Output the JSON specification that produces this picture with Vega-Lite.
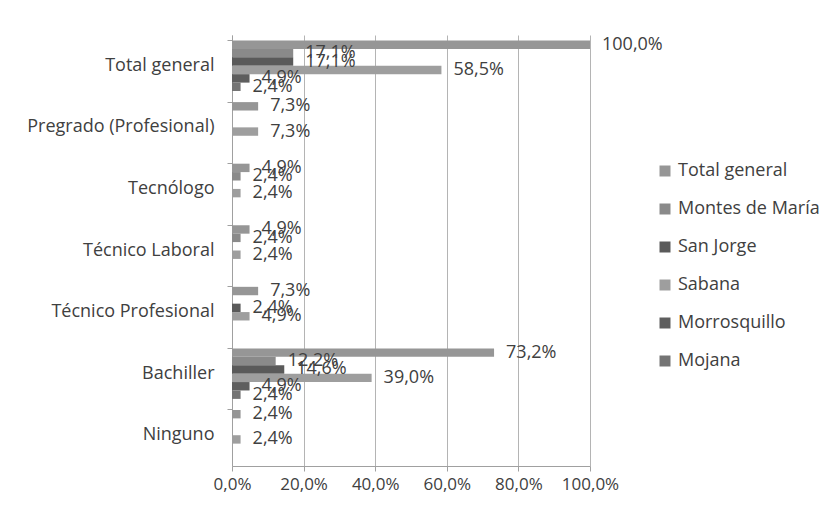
{
  "$schema": "https://vega.github.io/schema/vega-lite/v6.json",
  "width": 358,
  "height": 431,
  "autosize": {"type": "none"},
  "padding": {"left": 232, "top": 35, "right": 240, "bottom": 46},
  "background": "white",
  "config": {
    "view": {"stroke": null},
    "locale": {"number": {"decimal": ",", "thousands": ".", "grouping": [3], "currency": ["", " €"]}},
    "font": "Open Sans"
  },
  "data": {
    "values": [
      {"nivel": "Total general", "serie": "Total general", "v": 1.0},
      {"nivel": "Total general", "serie": "Montes de María", "v": 0.171},
      {"nivel": "Total general", "serie": "San Jorge", "v": 0.171},
      {"nivel": "Total general", "serie": "Sabana", "v": 0.585},
      {"nivel": "Total general", "serie": "Morrosquillo", "v": 0.049},
      {"nivel": "Total general", "serie": "Mojana", "v": 0.024},
      {"nivel": "Pregrado (Profesional)", "serie": "Total general", "v": 0.073},
      {"nivel": "Pregrado (Profesional)", "serie": "Sabana", "v": 0.073},
      {"nivel": "Tecnólogo", "serie": "Total general", "v": 0.049},
      {"nivel": "Tecnólogo", "serie": "Montes de María", "v": 0.024},
      {"nivel": "Tecnólogo", "serie": "Sabana", "v": 0.024},
      {"nivel": "Técnico Laboral", "serie": "Total general", "v": 0.049},
      {"nivel": "Técnico Laboral", "serie": "Montes de María", "v": 0.024},
      {"nivel": "Técnico Laboral", "serie": "Sabana", "v": 0.024},
      {"nivel": "Técnico Profesional", "serie": "Total general", "v": 0.073},
      {"nivel": "Técnico Profesional", "serie": "San Jorge", "v": 0.024},
      {"nivel": "Técnico Profesional", "serie": "Sabana", "v": 0.049},
      {"nivel": "Bachiller", "serie": "Total general", "v": 0.732},
      {"nivel": "Bachiller", "serie": "Montes de María", "v": 0.122},
      {"nivel": "Bachiller", "serie": "San Jorge", "v": 0.146},
      {"nivel": "Bachiller", "serie": "Sabana", "v": 0.39},
      {"nivel": "Bachiller", "serie": "Morrosquillo", "v": 0.049},
      {"nivel": "Bachiller", "serie": "Mojana", "v": 0.024},
      {"nivel": "Ninguno", "serie": "Total general", "v": 0.024},
      {"nivel": "Ninguno", "serie": "Sabana", "v": 0.024}
    ]
  },
  "encoding": {
    "y": {
      "field": "nivel", "type": "nominal",
      "sort": ["Total general", "Pregrado (Profesional)", "Tecnólogo", "Técnico Laboral", "Técnico Profesional", "Bachiller", "Ninguno"],
      "scale": {"paddingInner": 0.18, "paddingOuter": 0.09}
    },
    "yOffset": {
      "field": "serie", "type": "nominal",
      "scale": {"domain": ["Total general", "Montes de María", "San Jorge", "Sabana", "Morrosquillo", "Mojana"], "paddingInner": 0, "paddingOuter": 0}
    },
    "x": {
      "field": "v", "type": "quantitative",
      "scale": {"domain": [0, 1], "nice": false},
      "axis": {
        "title": null, "format": ".1%", "values": [0, 0.2, 0.4, 0.6, 0.8, 1.0],
        "grid": true, "gridColor": "#b4b4b4", "gridWidth": 1,
        "domainColor": "#a0a0a0", "tickColor": "#a0a0a0", "tickSize": 5,
        "labelFontSize": 17, "labelColor": "#404040", "labelPadding": 5,
        "labelFont": "Open Sans", "labelFlush": false
      }
    }
  },
  "layer": [
    {
      "mark": {"type": "bar"},
      "encoding": {
        "y": {
          "field": "nivel", "type": "nominal",
          "sort": ["Total general", "Pregrado (Profesional)", "Tecnólogo", "Técnico Laboral", "Técnico Profesional", "Bachiller", "Ninguno"],
          "axis": {
            "title": null, "orient": "left", "ticks": false, "domain": true, "domainColor": "#a0a0a0",
            "labelFontSize": 18, "labelColor": "#404040", "labelPadding": 18, "labelFont": "Open Sans",
            "labelLimit": 400
          }
        },
        "color": {
          "field": "serie", "type": "nominal",
          "scale": {
            "domain": ["Total general", "Montes de María", "San Jorge", "Sabana", "Morrosquillo", "Mojana"],
            "range": ["#969696", "#8a8a8a", "#5a5a5a", "#9e9e9e", "#5e5e5e", "#747474"]
          },
          "legend": {
            "title": null, "orient": "none", "legendX": 424, "legendY": 127,
            "symbolType": "square", "symbolSize": 121, "symbolStrokeWidth": 0,
            "labelFontSize": 18, "labelColor": "#404040", "labelFont": "Open Sans",
            "rowPadding": 20, "labelOffset": 4, "labelLimit": 400
          }
        }
      }
    },
    {
      "mark": {"type": "text", "align": "left", "baseline": "middle", "dx": 12, "fontSize": 18, "color": "#404040", "font": "Open Sans"},
      "encoding": {
        "y": {
          "field": "nivel", "type": "nominal",
          "sort": ["Total general", "Pregrado (Profesional)", "Tecnólogo", "Técnico Laboral", "Técnico Profesional", "Bachiller", "Ninguno"],
          "axis": {
            "title": null, "orient": "left", "labels": false, "domain": false, "ticks": true, "bandPosition": 0,
            "tickSize": 5, "tickColor": "#a0a0a0"
          }
        },
        "text": {"field": "v", "type": "quantitative", "format": ".1%"}
      }
    }
  ],
  "resolve": {"axis": {"y": "independent"}}
}
